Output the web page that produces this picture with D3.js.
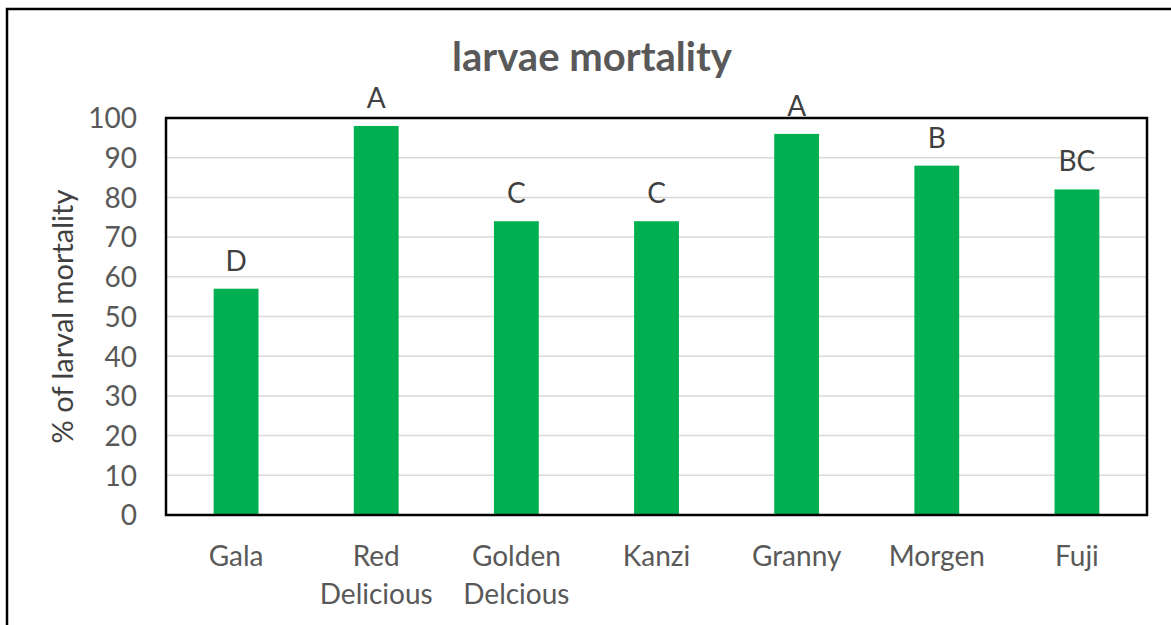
<!DOCTYPE html>
<html>
<head>
<meta charset="utf-8">
<script src="https://cdn.jsdelivr.net/npm/d3@7"></script>
<style>
  html, body { margin: 0; padding: 0; background: #fff; }
  svg { display: block; }
</style>
</head>
<body>
<svg id="chart" width="1171" height="625"></svg>
<script>
const categories = [["Gala"], ["Red", "Delicious"], ["Golden", "Delcious"], ["Kanzi"], ["Granny"], ["Morgen"], ["Fuji"]];
const mortality = [57, 98, 74, 74, 96, 88, 82];
const letters = ["D", "A", "C", "C", "A", "B", "BC"];
const yTicks = [0, 10, 20, 30, 40, 50, 60, 70, 80, 90, 100];

const font = "Lato, 'Open Sans', sans-serif";
const svg = d3.select("#chart");

// outer chart frame
svg.append("rect")
  .attr("x", 7).attr("y", 9).attr("width", 1200).attr("height", 700)
  .attr("fill", "#fff").attr("stroke", "#000").attr("stroke-width", 2.5);

const plot = { left: 166, top: 118, right: 1147, bottom: 515 };

const x = d3.scaleBand()
  .domain(categories.map((d, i) => i))
  .range([plot.left, plot.right])
  .paddingInner(0.68).paddingOuter(0.34);

const y = d3.scaleLinear().domain([0, 100]).range([plot.bottom, plot.top]);

// gridlines
svg.append("g")
  .selectAll("line").data(yTicks.slice(1)).join("line")
  .attr("x1", plot.left).attr("x2", plot.right)
  .attr("y1", d => y(d)).attr("y2", d => y(d))
  .attr("stroke", "#d9d9d9").attr("stroke-width", 1.5);

// bars
svg.append("g")
  .selectAll("rect").data(mortality).join("rect")
  .attr("x", (d, i) => x(i)).attr("width", x.bandwidth())
  .attr("y", d => y(d)).attr("height", d => plot.bottom - y(d))
  .attr("fill", "#00b050");

// letter labels
svg.append("g")
  .selectAll("text").data(mortality).join("text")
  .attr("x", (d, i) => x(i) + x.bandwidth() / 2)
  .attr("y", d => y(d) - 18)
  .attr("text-anchor", "middle")
  .attr("font-family", font).attr("font-size", 28).attr("fill", "#404040")
  .text((d, i) => letters[i]);

// plot frame
svg.append("rect")
  .attr("x", plot.left).attr("y", plot.top)
  .attr("width", plot.right - plot.left).attr("height", plot.bottom - plot.top)
  .attr("fill", "none").attr("stroke", "#000").attr("stroke-width", 2.5);

// y axis
const yAxis = svg.append("g")
  .attr("transform", `translate(${plot.left},0)`)
  .call(d3.axisLeft(y).tickValues(yTicks).tickSize(0).tickPadding(29));
yAxis.select(".domain").remove();
yAxis.selectAll("text")
  .attr("font-family", font).attr("font-size", 28).attr("fill", "#595959")
  .attr("dy", "0.35em");

// x axis labels
const xAxis = svg.append("g")
  .attr("transform", `translate(0,${plot.bottom})`)
  .call(d3.axisBottom(x).tickSize(0).tickFormat(""));
xAxis.select(".domain").remove();
xAxis.selectAll(".tick").each(function (d) {
  const t = d3.select(this).append("text")
    .attr("text-anchor", "middle")
    .attr("font-family", font).attr("font-size", 28).attr("fill", "#595959");
  categories[d].forEach((line, j) => {
    t.append("tspan").attr("x", 0).attr("y", 51 + j * 38).text(line);
  });
});

// y axis title
svg.append("text")
  .attr("transform", `translate(73,${(plot.top + plot.bottom) / 2}) rotate(-90)`)
  .attr("text-anchor", "middle")
  .attr("font-family", font).attr("font-size", 29).attr("fill", "#404040")
  .text("% of larval mortality");

// title
svg.append("text")
  .attr("x", 592).attr("y", 71)
  .attr("text-anchor", "middle")
  .attr("font-family", font).attr("font-size", 40).attr("font-weight", "bold").attr("fill", "#595959")
  .text("larvae mortality");
</script>
</body>
</html>
